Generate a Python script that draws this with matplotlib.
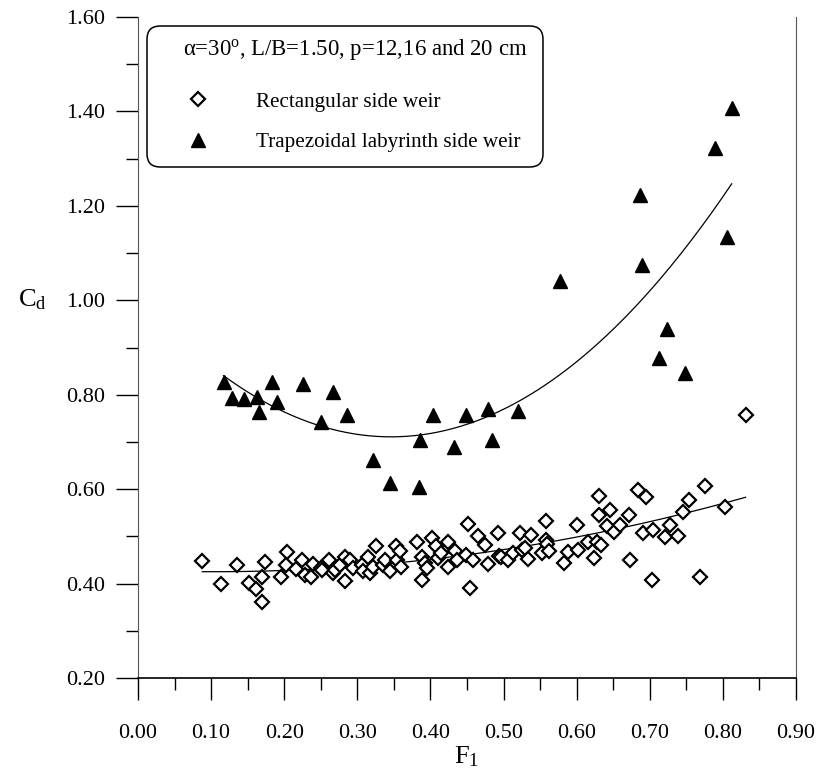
import numpy as np
import matplotlib
matplotlib.use("Agg")
import matplotlib.pyplot as plt
from matplotlib.patches import FancyBboxPatch

plt.rcParams['font.family'] = ['Liberation Serif', 'DejaVu Serif']
plt.rcParams['mathtext.fontset'] = 'custom'
plt.rcParams['mathtext.rm'] = 'Liberation Serif'
plt.rcParams['mathtext.it'] = 'Liberation Serif:italic'

# trapezoidal labyrinth side weir
trap_F1 = [0.117, 0.129, 0.145, 0.163, 0.165, 0.183, 0.190, 0.226, 0.250, 0.267,
           0.286, 0.322, 0.345, 0.385, 0.386, 0.403, 0.432, 0.448, 0.479, 0.484,
           0.520, 0.577, 0.686, 0.690, 0.713, 0.724, 0.748, 0.789, 0.806, 0.812]
trap_Cd = [0.826, 0.794, 0.791, 0.796, 0.763, 0.827, 0.784, 0.823, 0.743, 0.805,
           0.756, 0.661, 0.612, 0.605, 0.705, 0.758, 0.690, 0.756, 0.770, 0.705,
           0.766, 1.040, 1.224, 1.074, 0.878, 0.940, 0.845, 1.323, 1.135, 1.407]

# rectangular side weir
rect_F1 = [0.088, 0.113, 0.135, 0.152, 0.162, 0.169, 0.169, 0.174, 0.196, 0.204,
           0.202, 0.216, 0.224, 0.228, 0.236, 0.239, 0.250, 0.252, 0.261, 0.267,
           0.269, 0.276, 0.283, 0.283, 0.290, 0.294, 0.306, 0.308, 0.315, 0.317,
           0.322, 0.325, 0.335, 0.338, 0.344, 0.353, 0.354, 0.358, 0.360, 0.382,
           0.388, 0.389, 0.392, 0.395, 0.402, 0.407, 0.411, 0.415, 0.424, 0.424,
           0.433, 0.436, 0.449, 0.452, 0.454, 0.458, 0.465, 0.474, 0.479, 0.493,
           0.494, 0.497, 0.506, 0.513, 0.522, 0.525, 0.529, 0.534, 0.538, 0.552,
           0.558, 0.558, 0.560, 0.562, 0.582, 0.588, 0.600, 0.602, 0.616, 0.624,
           0.628, 0.631, 0.631, 0.633, 0.641, 0.646, 0.651, 0.659, 0.671, 0.673,
           0.684, 0.691, 0.695, 0.703, 0.705, 0.721, 0.728, 0.738, 0.745, 0.753,
           0.769, 0.776, 0.803, 0.831]
rect_Cd = [0.447, 0.399, 0.440, 0.401, 0.389, 0.414, 0.362, 0.445, 0.414, 0.466,
           0.440, 0.431, 0.449, 0.419, 0.414, 0.442, 0.433, 0.429, 0.450, 0.422,
           0.429, 0.440, 0.456, 0.405, 0.450, 0.433, 0.440, 0.426, 0.456, 0.422,
           0.436, 0.480, 0.440, 0.450, 0.426, 0.480, 0.450, 0.468, 0.436, 0.489,
           0.456, 0.408, 0.443, 0.433, 0.496, 0.479, 0.454, 0.465, 0.489, 0.436,
           0.468, 0.450, 0.461, 0.527, 0.391, 0.450, 0.500, 0.482, 0.442, 0.507,
           0.459, 0.456, 0.450, 0.465, 0.507, 0.472, 0.475, 0.452, 0.503, 0.465,
           0.532, 0.493, 0.484, 0.470, 0.443, 0.466, 0.523, 0.472, 0.489, 0.454,
           0.489, 0.586, 0.546, 0.482, 0.521, 0.555, 0.510, 0.523, 0.546, 0.450,
           0.599, 0.507, 0.583, 0.407, 0.513, 0.499, 0.525, 0.501, 0.551, 0.576,
           0.413, 0.607, 0.562, 0.757]

legend_title = u'\u03b1=30$^{\\mathrm{o}}$, L/B=1.50, p=12,16 and 20 cm'
labels = ['Rectangular side weir', 'Trapezoidal labyrinth side weir']

fig = plt.figure(figsize=(8.23, 7.73), dpi=100)
ax = fig.add_axes([138/823, 1 - 678/773, 658/823, 661/773])

h1, = ax.plot(rect_F1, rect_Cd, ls='none', marker='D', ms=6.8, mfc='white',
              mec='black', mew=1.6, zorder=3)
h2, = ax.plot(trap_F1, trap_Cd, ls='none', marker='^', ms=10.5, color='black',
              zorder=3)

# second order trend lines
for xs, ys in [(rect_F1, rect_Cd), (trap_F1, trap_Cd)]:
    c = np.polyfit(xs, ys, 2)
    xx = np.linspace(min(xs), max(xs), 200)
    ax.plot(xx, np.polyval(c, xx), color='black', lw=0.9, zorder=2)

ax.set_xlim(0, 0.9)
ax.set_ylim(0.2, 1.6)
ax.set_xticks(np.arange(0, 0.91, 0.1))
ax.set_xticks(np.arange(0.05, 0.9, 0.1), minor=True)
ax.set_yticks(np.arange(0.2, 1.61, 0.2))
ax.set_yticks(np.arange(0.3, 1.6, 0.2), minor=True)
ax.xaxis.set_major_formatter(matplotlib.ticker.FormatStrFormatter('%.2f'))
ax.yaxis.set_major_formatter(matplotlib.ticker.FormatStrFormatter('%.2f'))
ax.tick_params(axis='both', which='major', direction='out', length=16, width=1,
               labelsize=16)
ax.tick_params(axis='both', which='minor', direction='out', length=8.4, width=1)
ax.tick_params(axis='x', which='major', pad=17)
ax.tick_params(axis='y', which='major', pad=8)

ax.spines['top'].set_visible(False)
ax.spines['left'].set_color('#555555')
ax.spines['right'].set_color('#555555')
ax.spines['bottom'].set_linewidth(1.2)

ax.set_xlabel('F$_1$', fontsize=19, labelpad=1)
ax.text(-0.16, 0.572, 'C$_\\mathrm{d}$', transform=ax.transAxes, fontsize=19,
        ha='center', va='center')

box = FancyBboxPatch((9/658, 511/661), 396/658, 141/661,
                     boxstyle='round,pad=0,rounding_size=0.02',
                     transform=ax.transAxes, fc='white', ec='black', lw=1.1,
                     zorder=4)
ax.add_patch(box)
ax.text(217/658, 628/661, legend_title, transform=ax.transAxes,
        fontsize=16.4, ha='center', va='center', zorder=5)
leg = ax.legend([h1, h2], labels, loc='center left',
                bbox_to_anchor=(40/658, 556/661), frameon=False, fontsize=15.2,
                handlelength=1.9, handletextpad=1.8, labelspacing=0.98,
                borderpad=0, borderaxespad=0, numpoints=1)
leg.set_zorder(6)

fig.savefig('out.png', dpi=100)
